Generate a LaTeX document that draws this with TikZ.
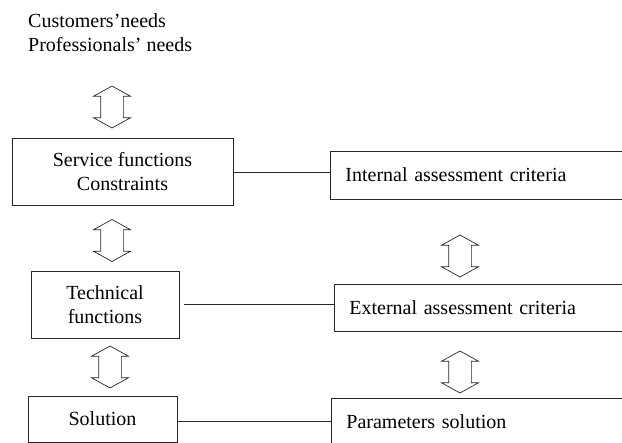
\documentclass[tikz,border=0pt]{standalone}
\usepackage{fontspec}
\setmainfont{Liberation Serif}
\usetikzlibrary{positioning,shapes.arrows}

\begin{document}
\begin{tikzpicture}[x=1pt, y=-1pt,
                every node/.style={font=\fontsize{20}{24}\selectfont},
                box/.style={rectangle, draw=black!85, line width=0.8pt, align=center, inner sep=0pt},
                crit/.style={rectangle, draw=black!85, line width=0.8pt, anchor=west, inner xsep=15pt, inner ysep=0pt, text width=300pt, align=left},
                updown/.style={double arrow, draw=black!85, line width=0.7pt, rotate=90, inner xsep=0pt, inner ysep=11pt, minimum height=42pt, minimum width=36pt, double arrow head extend=7pt, double arrow tip angle=122},
                link/.style={draw=black!85, line width=0.8pt}
            ]
            \useasboundingbox (0,0) rectangle (622,443);
            % needs on top
            \node (Needs) [anchor=north west, inner sep=0pt, align=left] at (28,13) {Customers'needs\\Professionals' needs};
            % left column
            \node (Arrow01) [updown] at (112,107) {};
            \node (Service) [box, minimum width=221pt, minimum height=67pt] at (122.5,171.5) {Service functions\\Constraints};
            \node (Arrow02) [updown] at (112,240.5) {};
            \node (Technical) [box, minimum width=148pt, minimum height=67pt] at (105,304.5) {Technical\\functions};
            \node (Arrow03) [updown] at (110,367) {};
            \node (Solution) [box, minimum width=149pt, minimum height=46pt] at (102.5,419) {Solution};
            % right column
            \node (Internal) [crit, minimum height=48pt] at (330,175) {Internal assessment criteria};
            \node (Arrow04) [updown] at (460,256) {};
            \node (External) [crit, minimum height=47pt] at (334,307.5) {External assessment criteria};
            \node (Arrow05) [updown] at (460,372) {};
            \node (Params) [crit, minimum height=48pt] at (331,422) {Parameters solution};
            % links across
            \draw [link] ([yshift=-1pt]Service.east) -- ([yshift=-1pt]Service.east -| Internal.west);
            \draw [link, shorten <=5pt] (Technical.east) -- (Technical.east -| External.west);
            \draw [link] ([yshift=-2pt]Solution.east) -- ([yshift=-2pt]Solution.east -| Params.west);
\end{tikzpicture}
\end{document}
